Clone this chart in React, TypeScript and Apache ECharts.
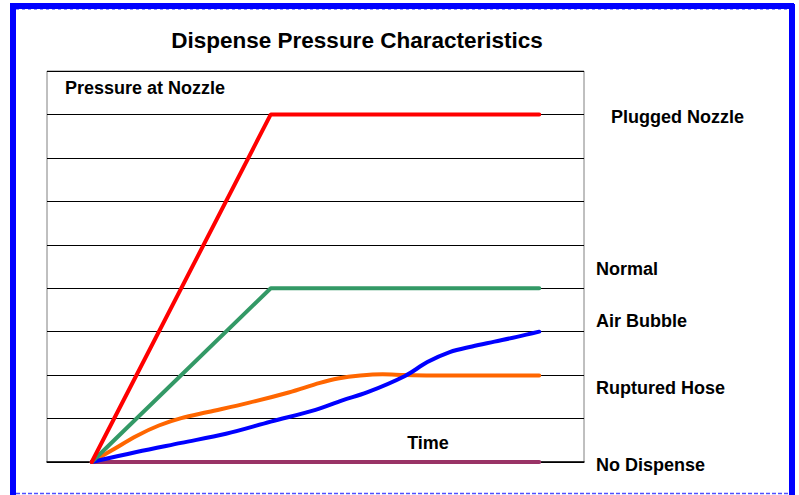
import React, { useEffect, useRef } from "react";
import * as echarts from "echarts";

const TITLE = "Dispense Pressure Characteristics";
const Y_LABEL = "Pressure at Nozzle";
const X_LABEL = "Time";

// [time, pressure] readings
const pluggedNozzle: [number, number][] = [[1, 0], [5, 8], [11, 8]];
const normal: [number, number][] = [[1, 0], [5, 4], [11, 4]];
const airBubble: [number, number][] = [
  [1, 0], [2, 0.23], [3, 0.44], [4, 0.65], [5, 0.93], [6, 1.2], [6.6, 1.42],
  [7.15, 1.6], [8, 1.98], [8.5, 2.3], [9, 2.53], [9.5, 2.66], [10, 2.77], [10.5, 2.88], [11, 3.0],
];
const rupturedHose: [number, number][] = [
  [1, 0], [1.5, 0.3], [2, 0.6], [2.5, 0.84], [3, 1.01], [3.6, 1.15], [4.5, 1.36],
  [5.4, 1.6], [6.1, 1.82], [6.5, 1.92], [7, 1.99], [7.5, 2.02], [8, 2.0], [8.6, 1.99], [11, 1.99],
];
const noDispense: [number, number][] = [[1, 0], [11, 0]];

const seriesNames = ["Plugged Nozzle", "Normal", "Air Bubble", "Ruptured Hose", "No Dispense"];
const seriesColors = ["#FF0000", "#339966", "#0000FF", "#FF6600", "#993366"];
const labelY = [117, 269, 321, 388, 465];
const labelX = [611, 596, 596, 596, 596];

const FONT = "'Liberation Sans', Arial, Helvetica, sans-serif";

export default function App() {
  const ref = useRef<HTMLDivElement>(null);
  useEffect(() => {
    if (!ref.current) return;
    const chart = echarts.init(ref.current, undefined, { renderer: "svg" });
    const data = [pluggedNozzle, normal, airBubble, rupturedHose, noDispense];
    const smoothFlags = [false, false, 0.35, 0.35, false];
    const order = [4, 3, 2, 1, 0];
    chart.setOption({
      animation: false,
      backgroundColor: "#ffffff",
      grid: {
        left: 47, top: 71, right: 215, bottom: 33,
        show: true, borderColor: "#808080", borderWidth: 1,
      },
      xAxis: {
        type: "value", min: 0, max: 12,
        axisLine: { show: true, lineStyle: { color: "#000", width: 1.5 } },
        axisTick: { show: false }, axisLabel: { show: false }, splitLine: { show: false },
      },
      yAxis: {
        type: "value", min: 0, max: 9, interval: 1,
        axisLine: { show: false }, axisTick: { show: false }, axisLabel: { show: false },
        splitLine: { show: true, lineStyle: { color: "#000", width: 1 } },
      },
      series: order.map((i) => ({
        name: seriesNames[i],
        type: "line",
        data: data[i],
        smooth: smoothFlags[i],
        showSymbol: false,
        symbol: "none",
        lineStyle: { color: seriesColors[i], width: 4, cap: "round" },
        z: 3,
      })),
      graphic: [
        { type: "rect", shape: { x: 10, y: 3, width: 784, height: 6 }, style: { fill: "#0000FF" } },
        { type: "rect", shape: { x: 10, y: 3, width: 6, height: 492 }, style: { fill: "#0000FF" } },
        { type: "rect", shape: { x: 789, y: 4, width: 6, height: 491 }, style: { fill: "#0000FF" } },
        { type: "line", shape: { x1: 16, y1: 9.5, x2: 789, y2: 9.5 }, style: { stroke: "#9090ff", lineWidth: 1, lineDash: [3, 3] } },
        { type: "line", shape: { x1: 16, y1: 493.5, x2: 789, y2: 493.5 }, style: { stroke: "#5050ff", lineWidth: 1.5, lineDash: [4, 2] } },
        {
          type: "text", x: 357, y: 40,
          style: { text: TITLE, font: `bold 22.5px ${FONT}`, fill: "#000", align: "center", verticalAlign: "middle" },
        },
        {
          type: "text", x: 65, y: 88,
          style: { text: Y_LABEL, font: `bold 18px ${FONT}`, fill: "#000", align: "left", verticalAlign: "middle" },
        },
        {
          type: "text", x: 428, y: 443,
          style: { text: X_LABEL, font: `bold 18px ${FONT}`, fill: "#000", align: "center", verticalAlign: "middle" },
        },
        ...seriesNames.map((n, i) => ({
          type: "text", x: labelX[i], y: labelY[i],
          style: { text: n, font: `bold 18px ${FONT}`, fill: "#000", align: "left", verticalAlign: "middle" },
        })),
      ],
    });
    return () => chart.dispose();
  }, []);
  return (
    <div
      ref={ref}
      style={{ position: "fixed", left: 0, top: 0, width: 799, height: 495, background: "#fff" }}
    />
  );
}
